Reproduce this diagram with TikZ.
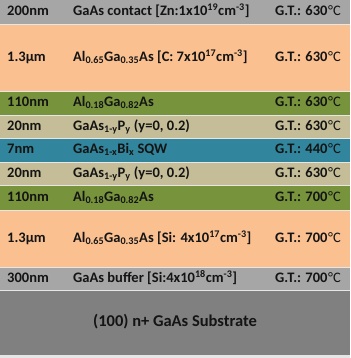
\documentclass[tikz,border=0pt]{standalone}
\usepackage{fontspec}
\setmainfont{Carlito}
\usetikzlibrary{positioning}

\definecolor{capgray}{HTML}{A6A6A6}
\definecolor{cladorange}{HTML}{FAC090}
\definecolor{barrgreen}{HTML}{77933C}
\definecolor{gaspbeige}{HTML}{C4BD97}
\definecolor{qwblue}{HTML}{31859C}
\definecolor{subgray}{HTML}{808080}
\definecolor{sepgray}{HTML}{E6E6E6}
\definecolor{inkgray}{HTML}{141414}

\newcommand{\degC}{{\mdseries\kern0.6pt\textdegree C}}

\begin{document}
\begin{tikzpicture}[
        x=1pt, y=1pt,
        font=\bfseries\fontsize{14.5}{17}\selectfont,
        layer/.style={minimum width=350pt, inner sep=0pt, outer sep=0pt, anchor=north},
        lbl/.style={inner sep=0pt, text=inkgray, text height=9.5pt, text depth=3pt},
        thk/.style={lbl, anchor=west},
        mat/.style={lbl, anchor=west},
        gt/.style={lbl, anchor=east}
    ]
        \useasboundingbox (0,0) rectangle (350,-358);
        \fill[sepgray] (0,0) rectangle (350,-358);

        % layer stack, top to bottom
        \node[layer, minimum height=24pt, fill=capgray] (contact) at (175,0) {};
        \node[layer, minimum height=66pt, fill=cladorange, below=1pt of contact] (pclad) {};
        \node[layer, minimum height=23pt, fill=barrgreen, below=1pt of pclad] (topbarr) {};
        \node[layer, minimum height=22pt, fill=gaspbeige, below=1pt of topbarr] (topsp) {};
        \node[layer, minimum height=23pt, fill=qwblue, below=1pt of topsp] (sqw) {};
        \node[layer, minimum height=22pt, fill=gaspbeige, below=1pt of sqw] (botsp) {};
        \node[layer, minimum height=24pt, fill=barrgreen, below=1pt of botsp] (botbarr) {};
        \node[layer, minimum height=56pt, fill=cladorange, below=1pt of botbarr] (nclad) {};
        \node[layer, minimum height=22pt, fill=capgray, below=1pt of nclad] (buffer) {};
        \node[layer, minimum height=64pt, fill=subgray, below=1pt of buffer] (substrate) {};

        % thickness column
        \node[thk, right=7pt of contact.west] (contact-t) {200nm};
        \node[thk, right=7pt of pclad.west] (pclad-t) {1.3µm};
        \node[thk, right=7pt of topbarr.west] (topbarr-t) {110nm};
        \node[thk, right=7pt of topsp.west] (topsp-t) {20nm};
        \node[thk, right=7pt of sqw.west] (sqw-t) {7nm};
        \node[thk, right=7pt of botsp.west] (botsp-t) {20nm};
        \node[thk, right=7pt of botbarr.west] (botbarr-t) {110nm};
        \node[thk, right=7pt of nclad.west] (nclad-t) {1.3µm};
        \node[thk, right=7pt of buffer.west] (buffer-t) {300nm};

        % material column
        \node[mat, right=73pt of contact.west] (contact-m) {GaAs contact [Zn:1x10\textsuperscript{19}cm\textsuperscript{-3}]};
        \node[mat, right=73pt of pclad.west] (pclad-m) {Al\textsubscript{0.65}Ga\textsubscript{0.35}As [C: 7x10\textsuperscript{17}cm\textsuperscript{-3}]};
        \node[mat, right=73pt of topbarr.west] (topbarr-m) {Al\textsubscript{0.18}Ga\textsubscript{0.82}As};
        \node[mat, right=73pt of topsp.west] (topsp-m) {GaAs\textsubscript{1-y}P\textsubscript{y} (y=0, 0.2)};
        \node[mat, right=73pt of sqw.west] (sqw-m) {GaAs\textsubscript{1-x}Bi\textsubscript{x} SQW};
        \node[mat, right=73pt of botsp.west] (botsp-m) {GaAs\textsubscript{1-y}P\textsubscript{y} (y=0, 0.2)};
        \node[mat, right=73pt of botbarr.west] (botbarr-m) {Al\textsubscript{0.18}Ga\textsubscript{0.82}As};
        \node[mat, right=73pt of nclad.west] (nclad-m) {Al\textsubscript{0.65}Ga\textsubscript{0.35}As [Si: 4x10\textsuperscript{17}cm\textsuperscript{-3}]};
        \node[mat, right=73pt of buffer.west] (buffer-m) {GaAs buffer [Si:4x10\textsuperscript{18}cm\textsuperscript{-3}]};

        % growth temperatures
        \node[gt, left=9pt of contact.east] (contact-g) {G.T.: 630\degC};
        \node[gt, left=9pt of pclad.east] (pclad-g) {G.T.: 630\degC};
        \node[gt, left=9pt of topbarr.east] (topbarr-g) {G.T.: 630\degC};
        \node[gt, left=9pt of topsp.east] (topsp-g) {G.T.: 630\degC};
        \node[gt, left=9pt of sqw.east] (sqw-g) {G.T.: 440\degC};
        \node[gt, left=9pt of botsp.east] (botsp-g) {G.T.: 630\degC};
        \node[gt, left=9pt of botbarr.east] (botbarr-g) {G.T.: 700\degC};
        \node[gt, left=9pt of nclad.east] (nclad-g) {G.T.: 700\degC};
        \node[gt, left=9pt of buffer.east] (buffer-g) {G.T.: 700\degC};

        \node[lbl, font=\bfseries\fontsize{16.5}{19}\selectfont] (substrate-m) at (substrate.center) {(100) n+ GaAs Substrate};
    \end{tikzpicture}
\end{document}
